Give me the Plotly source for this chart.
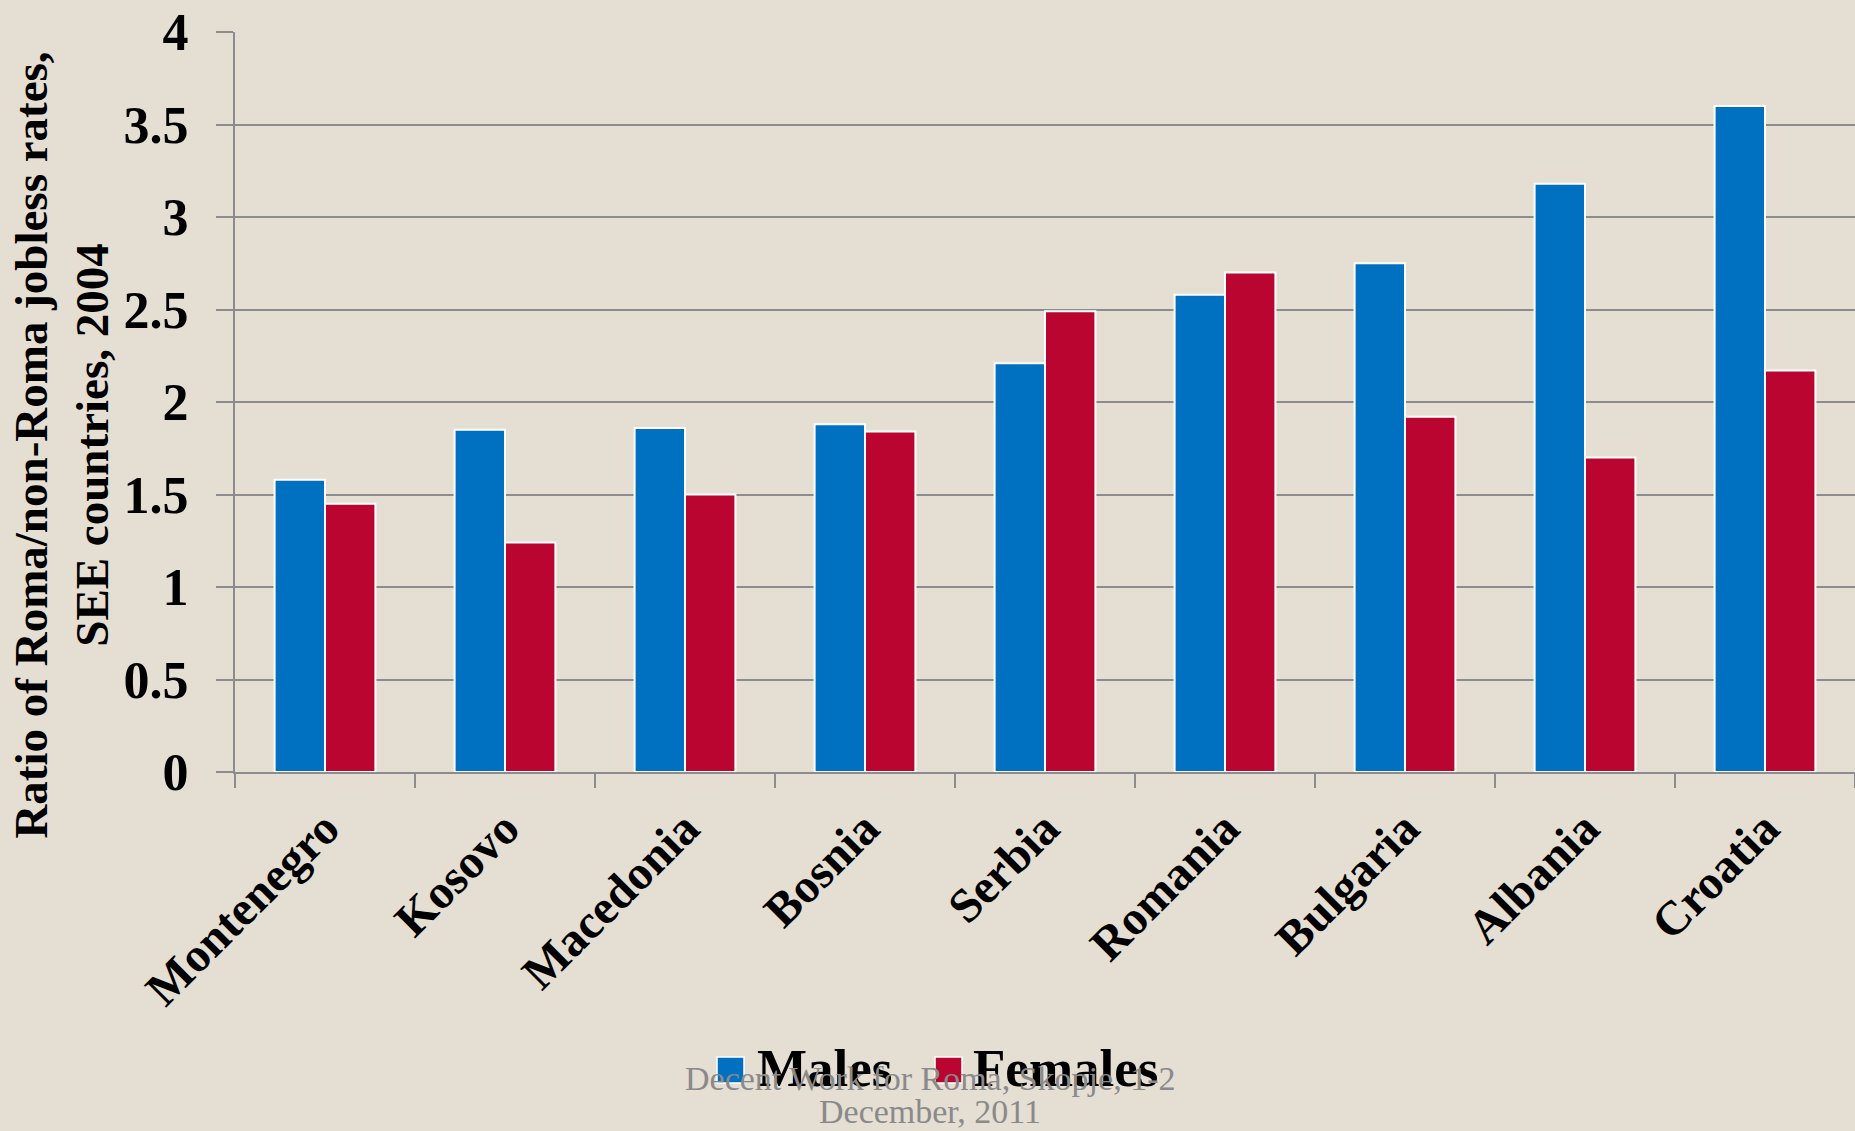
import plotly.graph_objects as go

countries = ["Montenegro", "Kosovo", "Macedonia", "Bosnia", "Serbia",
             "Romania", "Bulgaria", "Albania", "Croatia"]
males = [1.58, 1.85, 1.86, 1.88, 2.21, 2.58, 2.75, 3.18, 3.60]
females = [1.45, 1.24, 1.50, 1.84, 2.49, 2.70, 1.92, 1.70, 2.17]
y_ticks = [0, 0.5, 1, 1.5, 2, 2.5, 3, 3.5, 4]
y_tick_text = ["0", "0.5", "1", "1.5", "2", "2.5", "3", "3.5", "4"]
series_names = ["Males", "Females"]
series_colors = ["#0070C0", "#B9052F"]

BG = "#E4DED3"
GRID = "#8C8C8C"
SERIF = "Liberation Serif, Times New Roman, serif"

fig = go.Figure()
for name, vals, col in zip(series_names, [males, females], series_colors):
    fig.add_trace(go.Bar(x=countries, y=vals, name=name, showlegend=False,
                         marker=dict(color=col, line=dict(color="white", width=2))))

fig.update_layout(
    width=1855, height=1131,
    paper_bgcolor=BG, plot_bgcolor=BG,
    margin=dict(l=235, r=0, t=32, b=359),
    barmode="group", bargap=0.44, bargroupgap=0,
    font=dict(family=SERIF, color="black"),
    showlegend=False,
)
fig.update_xaxes(
    type="category", tickson="boundaries", ticks="outside", ticklen=14, tickwidth=2,
    tickcolor=GRID, showline=True, linecolor=GRID, linewidth=2, showgrid=False,
    tickangle=-45, ticklabelstandoff=7,
    tickfont=dict(family=SERIF, size=48, color="black", weight="bold"),
)
fig.update_yaxes(
    range=[0, 4], tickvals=y_ticks, ticktext=y_tick_text,
    ticks="outside", ticklen=17, tickwidth=2, tickcolor=GRID,
    showline=True, linecolor=GRID, linewidth=2,
    showgrid=True, gridcolor=GRID, gridwidth=2, zeroline=False,
    ticklabelstandoff=17,
    tickfont=dict(family=SERIF, size=52, color="black", weight="bold"),
)

# y-axis title
fig.add_annotation(
    xref="paper", yref="paper", x=-0.107, y=0.442, xanchor="center", yanchor="middle",
    text="Ratio of Roma/non-Roma jobless rates,<br>SEE countries, 2004",
    textangle=-90, showarrow=False,
    font=dict(family=SERIF, size=47, color="black", weight="bold"),
)

# legend (drawn manually for large swatches)
def px_x(p):
    return (p - 235) / 1620.0

def px_y(p):
    return (772 - p) / 740.0

legend_items = [(717, 755), (935, 971)]
for (sx, tx), name, col in zip(legend_items, series_names, series_colors):
    fig.add_shape(type="rect", xref="paper", yref="paper",
                  x0=px_x(sx), x1=px_x(sx + 27), y0=px_y(1083), y1=px_y(1057),
                  fillcolor=col, line=dict(color="white", width=1.5))
    fig.add_annotation(xref="paper", yref="paper", x=px_x(tx), y=px_y(1068),
                       xanchor="left", yanchor="middle", text=name, showarrow=False,
                       font=dict(family=SERIF, size=53, color="black", weight="bold"))

# footer
fig.add_annotation(xref="paper", yref="paper", x=px_x(930), y=px_y(1078),
                   xanchor="center", yanchor="middle", showarrow=False,
                   text="Decent Work for Roma, Skopje, 1-2",
                   font=dict(family=SERIF, size=34, color="#8A8A8A"))
fig.add_annotation(xref="paper", yref="paper", x=px_x(930), y=px_y(1111),
                   xanchor="center", yanchor="middle", showarrow=False,
                   text="December, 2011",
                   font=dict(family=SERIF, size=34, color="#8A8A8A"))

fig.write_html("out.html", config={"displayModeBar": False},
               post_script="document.body.style.margin='0';document.documentElement.style.overflow='hidden';")
